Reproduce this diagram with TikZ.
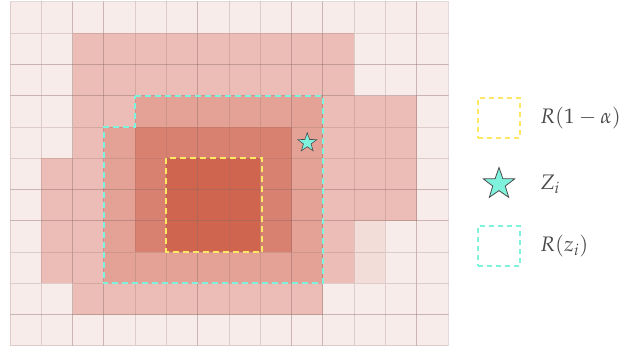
\documentclass[tikz,border=0pt]{standalone}
\usepackage{mathpazo}
\usetikzlibrary{shapes.geometric}
\definecolor{lv0}{HTML}{F7ECEA}
\definecolor{lv1}{HTML}{ECBDB6}
\definecolor{lv2}{HTML}{E3A295}
\definecolor{lv3}{HTML}{D98170}
\definecolor{lv4}{HTML}{D0654F}
\definecolor{lv5}{HTML}{F3DDD9}
\definecolor{gridc}{HTML}{8C6A66}
\definecolor{cyanc}{HTML}{7FF2DE}
\definecolor{yellowc}{HTML}{FFE766}
\definecolor{txtc}{HTML}{4A4A4A}
\tikzset{
  cellbox/.style={draw=gridc, draw opacity=0.24, line width=1pt},
  cyanline/.style={draw=cyanc, line width=2pt, dash pattern=on 6pt off 4pt},
  yellowline/.style={draw=yellowc, line width=2pt, dash pattern=on 6pt off 4pt},
  legbox/.style={line width=2pt, dash pattern=on 5pt off 4pt, minimum width=42pt, minimum height=40pt, inner sep=0pt},
  starmark/.style={star, star points=5, star point ratio=2.5, draw=black!70, fill=cyanc, line width=0.6pt, inner sep=0pt},
  legtext/.style={text=txtc, anchor=west, font=\fontsize{21}{25}\selectfont, inner sep=0pt}
}
\begin{document}
\begin{tikzpicture}[x=1pt, y=-1pt]
\useasboundingbox (0,0) rectangle (626,352);
\def\cw{31.29}
\def\ch{31.27}
\def\xo{10}
\def\yo{2}
\foreach \r [count=\j from 0] in {
 {0,0,0,0,0,0,0,0,0,0,0,0,0,0},
 {0,0,1,1,1,1,1,1,1,1,1,0,0,0},
 {0,0,1,1,1,1,1,1,1,1,1,0,0,0},
 {0,0,1,1,2,2,2,2,2,2,1,1,1,0},
 {0,0,1,2,3,3,3,3,3,2,1,1,1,0},
 {0,1,1,2,3,4,4,4,3,2,1,1,1,0},
 {0,1,1,2,3,4,4,4,3,2,1,1,1,0},
 {0,1,1,2,3,4,4,4,3,2,1,5,0,0},
 {0,1,1,2,2,2,2,2,2,2,1,5,0,0},
 {0,0,1,1,1,1,1,1,1,1,0,0,0,0},
 {0,0,0,0,0,0,0,0,0,0,0,0,0,0}} {
  \foreach \v [count=\i from 0] in \r {
    \path[fill=lv\v] ({\xo+\i*\cw},{\yo+\j*\ch}) rectangle ++(\cw,\ch);
    \path[cellbox] ({\xo+\i*\cw},{\yo+\j*\ch}) rectangle ++(\cw,\ch);
  }
}
% yellow region R(1-alpha)
\coordinate (ya) at ({\xo+5*\cw},{\yo+5*\ch});
\coordinate (yb) at ({\xo+8*\cw+2},{\yo+8*\ch});
\draw[yellowline] (ya) rectangle (yb);
% cyan region R(z_i)
\coordinate (c1) at ({\xo+4*\cw},{\yo+3*\ch});
\coordinate (c2) at ({\xo+10*\cw},{\yo+3*\ch});
\coordinate (c3) at ({\xo+10*\cw},{\yo+9*\ch});
\coordinate (c4) at ({\xo+3*\cw},{\yo+9*\ch});
\coordinate (c5) at ({\xo+3*\cw},{\yo+4*\ch});
\coordinate (c6) at ({\xo+4*\cw},{\yo+4*\ch});
\draw[cyanline] (c1) -- (c2) -- (c3) -- (c4) -- (c5) -- (c6) -- cycle;
% star in grid
\node[starmark, minimum size=20pt] (zs) at ({\xo+9.5*\cw},{\yo+4.5*\ch}) {};
% legend
\node[legbox, draw=yellowc] (ly) at (499,118) {};
\node[legtext] (ty) at (540,118) {$R(1-\alpha)$};
\node[starmark, minimum size=33pt, line width=0.8pt] (lz) at (499,184) {};
\node[legtext] (tz) at (540,184) {$Z_i$};
\node[legbox, draw=cyanc] (lc) at (499,246) {};
\node[legtext] (tc) at (540,246) {$R(z_i)$};
\end{tikzpicture}
\end{document}
